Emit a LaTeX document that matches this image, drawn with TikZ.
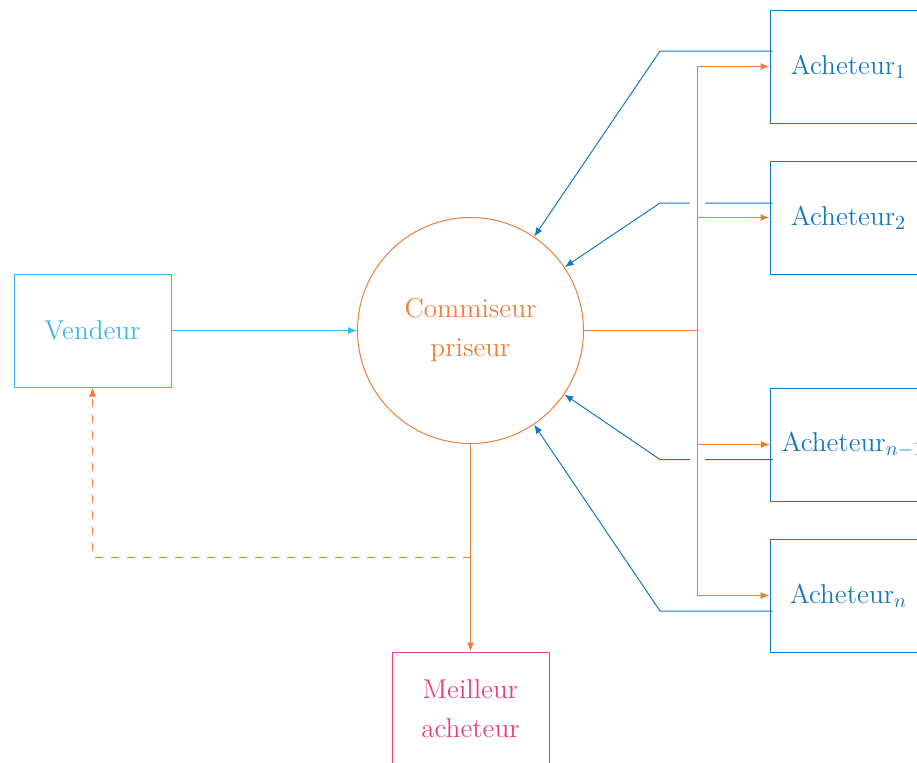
\documentclass[tikz,border=0pt]{standalone}
\usetikzlibrary{arrows.meta}
\definecolor{cvend}{RGB}{59,183,232}
\definecolor{corange}{RGB}{240,125,58}
\definecolor{cpink}{RGB}{232,64,122}
\definecolor{cblue}{RGB}{20,120,192}
\begin{document}
\begin{tikzpicture}[x=0.5pt,y=-0.5pt,
  txt/.style={font=\fontsize{13.6}{19.5}\selectfont, align=center, inner sep=0pt},
  boxstyle/.style={draw, txt, line width=0.5pt, minimum width=78.5pt, minimum height=56.5pt},
  tip/.style={-{Latex[length=4.5pt,width=3.5pt]}},
  lw/.style={line width=0.5pt}]
\useasboundingbox (0,0) rectangle (917,762);
\node[boxstyle, draw=cvend, text=cvend] (vend) at (92.5,330.5) {Vendeur};
\node[draw=corange, text=corange, circle, txt, line width=0.5pt, minimum size=113pt] (cp) at (470.5,330.5) {Commiseur\\priseur};
\node[boxstyle, draw=cpink, text=cpink] (best) at (470.5,708.5) {Meilleur\\acheteur};
\node[boxstyle, draw=cblue, text=cblue] (a1) at (848.5,66.5) {Acheteur$_1$};
\node[boxstyle, draw=cblue, text=cblue] (a2) at (848.5,217.5) {Acheteur$_2$};
\node[boxstyle, draw=cblue, text=cblue, inner xsep=5.5pt, anchor=west] (a3) at (770,444.5) {Acheteur$_{n-1}$};
\node[boxstyle, draw=cblue, text=cblue] (a4) at (848.5,595.5) {Acheteur$_n$};
% coordinates
\coordinate (bus) at (697,330.5);
\coordinate (k1) at (660,51);
\coordinate (k2) at (660,203);
\coordinate (k3) at (660,459.5);
\coordinate (k4) at (660,611);
\coordinate (dm) at (470.5,557);
\coordinate (dc) at (92.5,557);
% blue lines
\draw[lw, cblue, tip] ([shift={(3,-15.5)}]a1.west) -- (k1) -- (cp);
\draw[lw, cblue, tip] ([shift={(3,-14.5)}]a2.west) -- (k2) -- (cp);
\draw[lw, cblue, tip] ([shift={(3,15)}]a3.west) -- (k3) -- (cp);
\draw[lw, cblue, tip] ([shift={(3,15.5)}]a4.west) -- (k4) -- (cp);
% orange bus with white gap
\draw[line width=7.5pt, white] (697,66.5) -- (697,595.5);
\draw[lw, corange] (cp.east) -- (bus);
\draw[lw, corange] (697,66.5) -- (697,595.5);
\draw[lw, corange, tip] (697,66.5) -- (a1.west);
\draw[lw, corange, tip] (697,217.5) -- (a2.west);
\draw[lw, corange, tip] (697,444.5) -- (a3.west);
\draw[lw, corange, tip] (697,595.5) -- (a4.west);
% vendeur to commissaire
\draw[lw, cvend, tip] (vend.east) -- (cp.west);
% down to best buyer
\draw[lw, corange, tip] (cp.south) -- (best.north);
\draw[lw, corange, tip, dash pattern=on 4pt off 4pt] (dm) -- (dc) -- (vend.south);
\end{tikzpicture}
\end{document}
